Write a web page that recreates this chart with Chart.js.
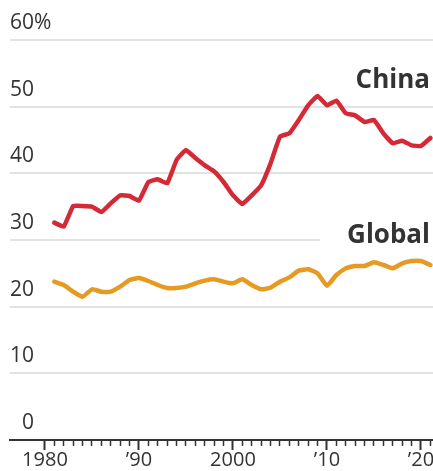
<!DOCTYPE html>
<html>
<head>
<meta charset="utf-8">
<script src="https://cdn.jsdelivr.net/npm/chart.js@4"></script>
<style>
  html, body { margin: 0; padding: 0; background: #fff; }
  #wrap { width: 433px; height: 471px; position: relative; }
</style>
</head>
<body>
<div id="wrap"><canvas id="myChart"></canvas></div>
<script>
const years = [1981, 1982, 1983, 1984, 1985, 1986, 1987, 1988, 1989, 1990,
    1991, 1992, 1993, 1994, 1995, 1996, 1997, 1998, 1999, 2000,
    2001, 2002, 2003, 2004, 2005, 2006, 2007, 2008, 2009, 2010,
    2011, 2012, 2013, 2014, 2015, 2016, 2017, 2018, 2019, 2020, 2021]

const china = [32.6, 32.0, 35.1, 35.1, 35.0, 34.2, 35.5, 36.7, 36.6, 35.9,
    38.7, 39.1, 38.5, 42.0, 43.5, 42.3, 41.2, 40.3, 38.7, 36.7,
    35.4, 36.7, 38.2, 41.5, 45.5, 46.0, 48.0, 50.2, 51.6, 50.2,
    50.9, 49.0, 48.7, 47.7, 48.0, 46.0, 44.5, 44.9, 44.2, 44.1, 45.3]

const global = [23.75, 23.25, 22.25, 21.5, 22.6, 22.25, 22.25, 23.0, 24.0, 24.3,
    23.85, 23.25, 22.8, 22.8, 23.0, 23.5, 23.9, 24.1, 23.75, 23.5,
    24.1, 23.25, 22.6, 22.85, 23.75, 24.4, 25.4, 25.6, 25.0, 23.15,
    24.75, 25.75, 26.1, 26.1, 26.65, 26.25, 25.75, 26.5, 26.85, 26.85, 26.25]

const majorYears = [1980, 1990, 2000, 2010, 2020]
const majorLabels = ['1980', '\u201990', '2000', '\u201910', '\u201920']
const yTicks = [0, 10, 20, 30, 40, 50, 60]

// where the series names sit (in data units)
const seriesNames = [
    { text: 'China', y: 52.8, cut: null },
    { text: 'Global', y: 29.55, cut: 30 }
]

const RED = '#d42a37'
const ORANGE = '#e79a22'
const INK = '#333'

Chart.defaults.font.family = "'Open Sans', sans-serif"
Chart.defaults.color = INK

const toPoints = (vals) => vals.map((v, i) => ({ x: years[i], y: v }))

// tick marks every year from 1980 to the end
const tickYears = []
for (let y = 1980; y <= 2021; y++) tickYears.push(y)

const nameLabels = {
    id: 'nameLabels',
    beforeDatasetsDraw(chart) {
        const { ctx, chartArea, scales } = chart
        ctx.save()
        ctx.font = "bold 26px 'Open Sans', sans-serif"
        seriesNames.forEach(n => {
            if (n.cut === null) return
            const w = ctx.measureText(n.text).width
            const gy = scales.y.getPixelForValue(n.cut)
            ctx.fillStyle = '#fff'
            ctx.fillRect(chartArea.right - 3 - w - 27, gy - 3, w + 40, 6)
        })
        ctx.restore()
    },
    afterDatasetsDraw(chart) {
        const { ctx, chartArea, scales } = chart
        ctx.save()
        ctx.font = "bold 26px 'Open Sans', sans-serif"
        ctx.fillStyle = INK
        ctx.textAlign = 'right'
        ctx.textBaseline = 'alphabetic'
        seriesNames.forEach(n => {
            ctx.fillText(n.text, chartArea.right - 3, scales.y.getPixelForValue(n.y))
        })
        ctx.restore()
    }
}

new Chart(document.getElementById('myChart'), {
    type: 'line',
    data: {
        datasets: [
            {
                label: 'China',
                data: toPoints(china),
                borderColor: RED,
                borderWidth: 4.5,
                pointRadius: 0,
                tension: 0.1,
                borderJoinStyle: 'round',
                borderCapStyle: 'round'
            },
            {
                label: 'Global',
                data: toPoints(global),
                borderColor: ORANGE,
                borderWidth: 4.5,
                pointRadius: 0,
                tension: 0.15,
                borderJoinStyle: 'round',
                borderCapStyle: 'round'
            }
        ]
    },
    options: {
        responsive: true,
        maintainAspectRatio: false,
        animation: false,
        layout: {
            padding: { left: 10, top: 40, right: 0, bottom: 0 }
        },
        plugins: {
            legend: { display: false },
            tooltip: { enabled: false },
            title: { display: false }
        },
        scales: {
            x: {
                type: 'linear',
                min: 1976.28,
                max: 2021.28,
                afterBuildTicks: (scale) => {
                    scale.ticks = tickYears.map(v => ({ value: v }))
                },
                border: { display: true, color: INK, width: 2 },
                grid: {
                    drawOnChartArea: false,
                    drawTicks: true,
                    tickLength: 10,
                    tickColor: INK,
                    tickWidth: (c) => majorYears.includes(c.tick && c.tick.value) ? 2 : 1.5,
                    tickBorderDash: (c) => majorYears.includes(c.tick && c.tick.value) ? [] : [5, 50]
                },
                ticks: {
                    autoSkip: false,
                    maxRotation: 0,
                    padding: 0,
                    color: INK,
                    font: { size: 20, lineHeight: 1.05 },
                    callback: (v) => {
                        const i = majorYears.indexOf(v)
                        return i >= 0 ? majorLabels[i] : ''
                    }
                }
            },
            y: {
                min: 0,
                max: 60,
                afterBuildTicks: (scale) => {
                    scale.ticks = yTicks.map(v => ({ value: v }))
                },
                border: { display: false },
                grid: {
                    drawTicks: false,
                    color: (c) => c.tick && c.tick.value === 0 ? 'rgba(0,0,0,0)' : '#e2e2e2',
                    lineWidth: 2
                },
                ticks: {
                    mirror: true,
                    padding: 0,
                    labelOffset: -17,
                    color: INK,
                    font: { size: 21 },
                    callback: (v) => v === 60 ? '60%' : (v === 0 ? '\u2007' + v : String(v))
                }
            }
        }
    },
    plugins: [nameLabels]
})
</script>
</body>
</html>
